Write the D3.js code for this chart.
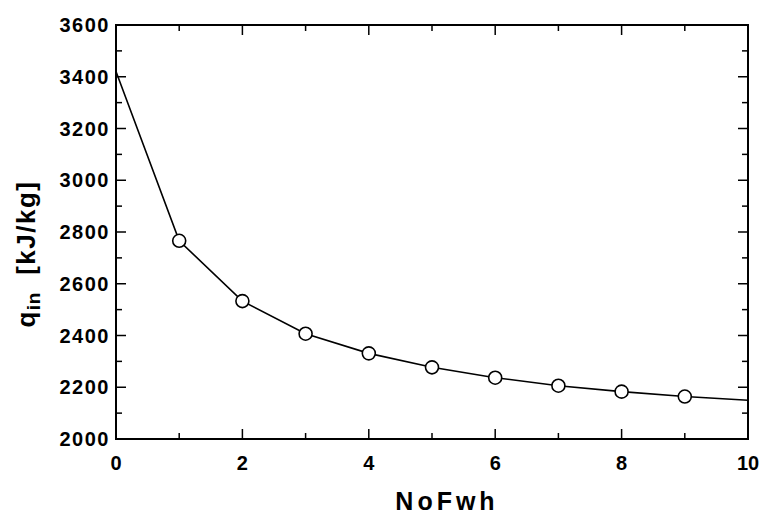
<!DOCTYPE html>
<html><head><meta charset="utf-8">
<script src="https://cdn.jsdelivr.net/npm/d3@7"></script>
<style>body{margin:0;background:#fff}svg{display:block}</style>
</head><body>
<script>
const xValues = [0,1,2,3,4,5,6,7,8,9,10];
const qIn = [3420,2766,2533,2407,2331,2277,2237,2206,2183,2164,2150];
const markerIdx = [1,2,3,4,5,6,7,8,9];
const xTicks = [0,2,4,6,8,10];
const xMinor = [1,3,5,7,9];
const yTicks = [2000,2200,2400,2600,2800,3000,3200,3400,3600];
const yMinor = [2100,2300,2500,2700,2900,3100,3300,3500];

const W=763,H=517;
const L=116,R=748,T=25,B=439;
const svg=d3.select("body").append("svg").attr("width",W).attr("height",H);
const x=d3.scaleLinear().domain([0,10]).range([L,R]);
const y=d3.scaleLinear().domain([2000,3600]).range([B,T]);

const font="'Liberation Sans', Arial, sans-serif";
const g=svg.append("g");
function ticks(vals,len,axis){
  vals.forEach(v=>{
    if(axis==="x"){
      g.append("line").attr("x1",x(v)).attr("x2",x(v)).attr("y1",B).attr("y2",B-len).attr("stroke","#000").attr("stroke-width",1.5);
      g.append("line").attr("x1",x(v)).attr("x2",x(v)).attr("y1",T).attr("y2",T+len).attr("stroke","#000").attr("stroke-width",1.5);
    } else {
      g.append("line").attr("y1",y(v)).attr("y2",y(v)).attr("x1",L).attr("x2",L+len).attr("stroke","#000").attr("stroke-width",1.5);
      g.append("line").attr("y1",y(v)).attr("y2",y(v)).attr("x1",R).attr("x2",R-len).attr("stroke","#000").attr("stroke-width",1.5);
    }
  });
}
ticks(xTicks,10,"x");ticks(xMinor,6,"x");
ticks(yTicks,10,"y");ticks(yMinor,6,"y");
g.append("rect").attr("x",L).attr("y",T).attr("width",R-L).attr("height",B-T).attr("fill","none").attr("stroke","#000").attr("stroke-width",2);

svg.selectAll(".xl").data(xTicks).enter().append("text")
  .attr("x",d=>x(d)).attr("y",470).attr("text-anchor","middle")
  .attr("font-family",font).attr("font-weight","bold").attr("font-size",20)
  .text(d=>d);
svg.selectAll(".yl").data(yTicks).enter().append("text")
  .attr("x",110).attr("y",d=>y(d)+7).attr("text-anchor","end")
  .attr("font-family",font).attr("font-weight","bold").attr("font-size",20).attr("letter-spacing",1.5)
  .text(d=>d);

const line=d3.line().x((d,i)=>x(xValues[i])).y(d=>y(d));
svg.append("path").datum(qIn).attr("d",line).attr("fill","none").attr("stroke","#000").attr("stroke-width",1.6);
svg.selectAll("circle").data(markerIdx).enter().append("circle")
  .attr("cx",i=>x(xValues[i])).attr("cy",i=>y(qIn[i])).attr("r",6.5)
  .attr("fill","#fff").attr("stroke","#000").attr("stroke-width",1.6);

svg.append("text").attr("x",447).attr("y",510).attr("text-anchor","middle")
  .attr("font-family",font).attr("font-weight","bold").attr("font-size",25).attr("letter-spacing",4)
  .text("NoFwh");

const yl=svg.append("text").attr("transform","translate(35,254) rotate(-90)").attr("text-anchor","middle")
  .attr("font-family",font).attr("font-weight","bold").attr("font-size",26).attr("letter-spacing",1.5);
yl.append("tspan").text("q");
yl.append("tspan").attr("font-size",19).attr("letter-spacing",0.5).attr("dy",5).text("in");
yl.append("tspan").attr("dy",-5).text("\u00a0\u00a0[kJ/kg]");
</script>
</body></html>
